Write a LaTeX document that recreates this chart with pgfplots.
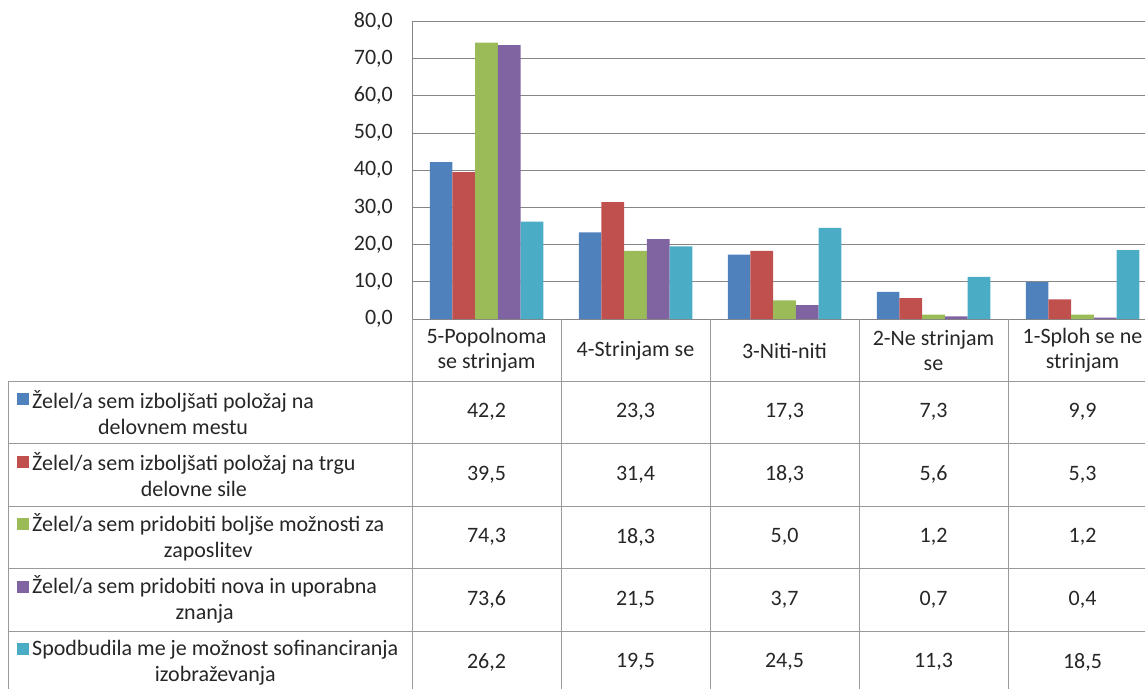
\documentclass[border=0pt]{standalone}
\usepackage{pgfplots}
\pgfplotsset{compat=1.18}
\usepackage{pgfplotstable}
\usepackage{fontspec}
\setmainfont{Carlito}

\definecolor{c1}{HTML}{4F81BD}
\definecolor{c2}{HTML}{C0504D}
\definecolor{c3}{HTML}{9BBB59}
\definecolor{c4}{HTML}{8064A2}
\definecolor{c5}{HTML}{4BACC6}
\definecolor{gridc}{HTML}{868686}
\definecolor{tabc}{HTML}{9A9A9A}
\definecolor{txt}{HTML}{262626}

\pgfplotstableread{
x s1 s2 s3 s4 s5
0 42.2 39.5 74.3 73.6 26.2
1 23.3 31.4 18.3 21.5 19.5
2 17.3 18.3 5.0 3.7 24.5
3 7.3 5.6 1.2 0.7 11.3
4 9.9 5.3 1.2 0.4 18.5
}\datatable

\newcommand{\tf}{\fontsize{22pt}{26pt}\selectfont}

\begin{document}
\tf
\begin{tikzpicture}[x=1pt,y=1pt]
\begin{axis}[
  at={(412pt,-319pt)}, anchor=south west,
  width=745pt, height=297.6pt, scale only axis,
  xmin=-0.5, xmax=4.5, ymin=0, ymax=80,
  ytick={0,10,...,80},
  xtick=\empty,
  ymajorgrids,
  grid style={gridc, line width=1pt},
  axis line style={gridc, line width=1pt},
  major tick length=0pt,
  yticklabel={\pgfmathprintnumber[use comma,fixed,fixed zerofill,precision=1,assume math mode=true]{\tick}},
  yticklabel style={font=\tf, text=txt, inner sep=0pt, anchor=east, xshift=-19pt},
  ybar=0pt, bar width=22.7pt,
]
\addplot[fill=c1, draw=none] table[x=x, y=s1]{\datatable};
\addplot[fill=c2, draw=none] table[x=x, y=s2]{\datatable};
\addplot[fill=c3, draw=none] table[x=x, y=s3]{\datatable};
\addplot[fill=c4, draw=none] table[x=x, y=s4]{\datatable};
\addplot[fill=c5, draw=none] table[x=x, y=s5]{\datatable};
\end{axis}

% data table grid
\foreach \yy in {381,443.5,506,568.5,631,693.5}
  \draw[tabc, line width=1pt] (8,-\yy) -- (1157,-\yy);
\draw[tabc, line width=1pt] (8,-381) -- (8,-693.5);
\foreach \xx in {412,561,710,859,1008,1157}
  \draw[tabc, line width=1pt] (\xx,-319) -- (\xx,-693.5);

% header
\begin{scope}[every node/.style={align=center, text=txt, inner sep=0pt, font=\fontsize{22pt}{25pt}\selectfont}]
\node at (486.5,-350.5) {5-Popolnoma\\se strinjam};
\node at (635.5,-350.5) {4-Strinjam se};
\node at (784.5,-350.5) {3-Niti-niti};
\node at (933.5,-350.5) {2-Ne strinjam\\se};
\node at (1082.5,-350.5) {1-Sploh se ne\\strinjam};
\end{scope}

% values
\begin{scope}[every node/.style={text=txt, inner sep=0pt, font=\tf}]
\node at (486.5,-412.25) {42,2}; \node at (635.5,-412.25) {23,3}; \node at (784.5,-412.25) {17,3}; \node at (933.5,-412.25) {7,3}; \node at (1082.5,-412.25) {9,9};
\node at (486.5,-474.75) {39,5}; \node at (635.5,-474.75) {31,4}; \node at (784.5,-474.75) {18,3}; \node at (933.5,-474.75) {5,6}; \node at (1082.5,-474.75) {5,3};
\node at (486.5,-537.25) {74,3}; \node at (635.5,-537.25) {18,3}; \node at (784.5,-537.25) {5,0}; \node at (933.5,-537.25) {1,2}; \node at (1082.5,-537.25) {1,2};
\node at (486.5,-599.75) {73,6}; \node at (635.5,-599.75) {21,5}; \node at (784.5,-599.75) {3,7}; \node at (933.5,-599.75) {0,7}; \node at (1082.5,-599.75) {0,4};
\node at (486.5,-662.25) {26,2}; \node at (635.5,-662.25) {19,5}; \node at (784.5,-662.25) {24,5}; \node at (933.5,-662.25) {11,3}; \node at (1082.5,-662.25) {18,5};
\end{scope}

% legend keys and labels
\fill[c1] (17,-393.25) rectangle (29,-405.25);
\fill[c2] (17,-455.75) rectangle (29,-467.75);
\fill[c3] (17,-518.25) rectangle (29,-530.25);
\fill[c4] (17,-580.75) rectangle (29,-592.75);
\fill[c5] (17,-643.25) rectangle (29,-655.25);
\begin{scope}[every node/.style={anchor=west, align=center, text=txt, inner sep=0pt, font=\tf}]
\node at (32,-412.25) {Želel/a sem izboljšati položaj na\\delovnem mestu};
\node at (32,-474.75) {Želel/a sem izboljšati položaj na trgu\\delovne sile};
\node at (32,-537.25) {Želel/a sem pridobiti boljše možnosti za\\zaposlitev};
\node at (32,-599.75) {Želel/a sem pridobiti nova in uporabna\\znanja};
\node at (32,-662.25) {Spodbudila me je možnost sofinanciranja\\izobraževanja};
\end{scope}

\pgfresetboundingbox
\path[use as bounding box] (0,0) rectangle (1145,-688);
\end{tikzpicture}
\end{document}
